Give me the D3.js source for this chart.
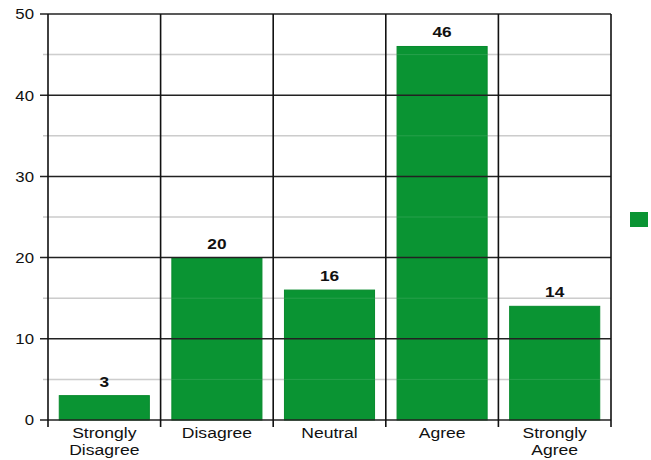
<!DOCTYPE html>
<html><head><meta charset="utf-8">
<script src="https://cdn.jsdelivr.net/npm/d3@7"></script>
<style>body{margin:0;background:#fff;} text{font-family:"Liberation Sans",Arial,sans-serif;}</style>
</head><body><svg id="c" width="651" height="460"></svg>
<script>
const categories = [["Strongly","Disagree"],["Disagree"],["Neutral"],["Agree"],["Strongly","Agree"]];
const values = [3, 20, 16, 46, 14];
const yTicks = [0, 10, 20, 30, 40, 50];
const yMinor = [5, 15, 25, 35, 45];

const svg = d3.select("#c");
const L = 48, R = 611, T = 14, B = 420;
const x = d3.scaleBand().domain(d3.range(values.length)).range([L, R]).paddingInner(0.2).paddingOuter(0.1);
const y = d3.scaleLinear().domain([0, 50]).range([B, T]);
const step = x.step();

// minor gridlines
svg.append("g").selectAll("line").data(yMinor).join("line")
  .attr("x1", 43).attr("x2", R).attr("y1", d => y(d)).attr("y2", d => y(d))
  .attr("stroke", "#c8c8c8").attr("stroke-width", 1.5);

// bars
svg.append("g").selectAll("rect").data(values).join("rect")
  .attr("x", (d, i) => x(i)).attr("width", x.bandwidth())
  .attr("y", d => y(d)).attr("height", d => B - y(d))
  .attr("fill", "#0a9433").attr("stroke", "#078a2c").attr("stroke-width", 1);

// faint gridlines over bars
svg.append("g").selectAll("line").data(yMinor).join("line")
  .attr("x1", L).attr("x2", R).attr("y1", d => y(d)).attr("y2", d => y(d))
  .attr("stroke", "#ffffff").attr("stroke-opacity", 0.12).attr("stroke-width", 1);

// major gridlines + ticks
svg.append("g").selectAll("line").data(yTicks).join("line")
  .attr("x1", 40).attr("x2", R).attr("y1", d => y(d)).attr("y2", d => y(d))
  .attr("stroke", "#222").attr("stroke-width", 1.5);

// vertical category separators
const vx = d3.range(values.length + 1).map(i => L + i * step);
svg.append("g").selectAll("line").data(vx).join("line")
  .attr("x1", d => d).attr("x2", d => d).attr("y1", T).attr("y2", B + 7)
  .attr("stroke", "#111").attr("stroke-width", 1.6);

// y tick labels
svg.append("g").selectAll("text").data(yTicks).join("text")
  .attr("transform", d => `translate(34,${y(d)}) scale(1.12,1)`).attr("dy", "0.36em")
  .attr("text-anchor", "end").attr("font-size", 15).attr("fill", "#111")
  .text(d => d);

// value labels
svg.append("g").selectAll("text").data(values).join("text")
  .attr("transform", (d, i) => `translate(${x(i) + x.bandwidth() / 2},${y(d) - 9}) scale(1.15,1)`)
  .attr("text-anchor", "middle").attr("font-size", 15).attr("font-weight", "bold").attr("fill", "#111")
  .text(d => d);

// x labels
const xl = svg.append("g").selectAll("text").data(categories).join("text")
  .attr("transform", (d, i) => `translate(${x(i) + x.bandwidth() / 2},438) scale(1.17,1)`)
  .attr("text-anchor", "middle").attr("font-size", 15).attr("fill", "#111");
xl.each(function(lines) {
  const t = d3.select(this);
  lines.forEach((s, j) => {
    t.append("tspan").attr("x", 0).attr("y", j * 17).text(s);
  });
});

// legend
svg.append("rect").attr("x", 630).attr("y", 212).attr("width", 18).attr("height", 15).attr("fill", "#0a9433");
</script></body></html>
